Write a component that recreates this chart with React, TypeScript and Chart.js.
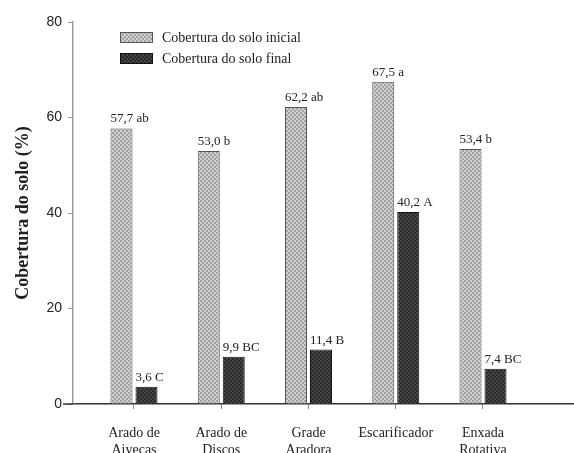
import { useEffect, useRef } from "react";
import { Chart, registerables } from "chart.js";

Chart.register(...registerables);

const categories: string[][] = [
  ["Arado de", "Aivecas"],
  ["Arado de", "Discos"],
  ["Grade", "Aradora"],
  ["Escarificador"],
  ["Enxada", "Rotativa"],
];
const initialValues = [57.7, 53.0, 62.2, 67.5, 53.4];
const finalValues = [3.6, 9.9, 11.4, 40.2, 7.4];
const initialLetters = ["ab", "b", "ab", "a", "b"];
const finalLetters = ["C", "BC", "B", "A", "BC"];
const seriesLabels = ["Cobertura do solo inicial", "Cobertura do solo final"];
const yTickValues = [0, 20, 40, 60, 80];
const yTitle = "Cobertura do solo (%)";

const SERIF = '"Liberation Serif", "Times New Roman", serif';
const SANS = '"Liberation Sans", Arial, sans-serif';

function makePattern(ctx: CanvasRenderingContext2D, base: string, dot: string) {
  const c = document.createElement("canvas");
  c.width = 4;
  c.height = 4;
  const p = c.getContext("2d")!;
  p.fillStyle = base;
  p.fillRect(0, 0, 4, 4);
  p.fillStyle = dot;
  p.fillRect(0, 0, 2, 2);
  p.fillRect(2, 2, 2, 2);
  return ctx.createPattern(c, "repeat") as CanvasPattern;
}

export default function App() {
  const canvasRef = useRef<HTMLCanvasElement | null>(null);

  useEffect(() => {
    const canvas = canvasRef.current;
    if (!canvas) return;
    const ctx = canvas.getContext("2d")!;
    const patInitial = makePattern(ctx, "#d0d0d0", "#a2a2a2");
    const patFinal = makePattern(ctx, "#2a2a2a", "#444444");
    const letters = [initialLetters, finalLetters];

    const labelPlugin = {
      id: "extras",
      afterDatasetsDraw(chart: any) {
        const c = chart.ctx as CanvasRenderingContext2D;
        c.save();
        c.font = `13px ${SERIF}`;
        c.fillStyle = "#222";
        c.textAlign = "left";
        c.textBaseline = "alphabetic";
        chart.data.datasets.forEach((ds: any, di: number) => {
          const meta = chart.getDatasetMeta(di);
          meta.data.forEach((bar: any, i: number) => {
            const v = ds.data[i].y as number;
            const txt = v.toFixed(1).replace(".", ",") + " " + letters[di][i];
            c.fillText(txt, bar.x - bar.width / 2, bar.y - 6);
          });
        });
        c.restore();
      },
      afterDraw(chart: any) {
        const c = chart.ctx as CanvasRenderingContext2D;
        const { left, top } = chart.chartArea;
        const y0 = chart.scales.y.getPixelForValue(0);
        c.save();
        c.strokeStyle = "#333";
        c.lineWidth = 1.5;
        c.beginPath();
        c.moveTo(left - 10, y0);
        c.lineTo(left, y0);
        c.stroke();
        chart.data.datasets.forEach((ds: any, i: number) => {
          const bx = left + 47;
          const by = top + 10 + i * 21;
          c.fillStyle = ds.backgroundColor;
          c.fillRect(bx, by, 33, 11);
          c.strokeStyle = ds.borderColor;
          c.lineWidth = 1;
          c.strokeRect(bx + 0.5, by + 0.5, 32, 10);
          c.fillStyle = "#222";
          c.font = `14px ${SERIF}`;
          c.textAlign = "left";
          c.textBaseline = "middle";
          c.fillText(ds.label, bx + 42, by + 6);
        });
        c.restore();
      },
    };

    const chart = new Chart(canvas, {
      type: "bar",
      data: {
        datasets: [
          {
            label: seriesLabels[0],
            data: initialValues.map((v, i) => ({ x: i + 1, y: v })),
            backgroundColor: patInitial as any,
            borderColor: "#555",
            borderWidth: 1,
            categoryPercentage: 0.573,
            barPercentage: 0.88,
          },
          {
            label: seriesLabels[1],
            data: finalValues.map((v, i) => ({ x: i + 1, y: v })),
            backgroundColor: patFinal as any,
            borderColor: "#111",
            borderWidth: 1,
            categoryPercentage: 0.573,
            barPercentage: 0.88,
          },
        ],
      },
      options: {
        animation: false,
        responsive: true,
        maintainAspectRatio: false,
        layout: { padding: { top: 22, right: 0, bottom: 0, left: 0 } },
        plugins: {
          legend: { display: false },
          tooltip: { enabled: false },
        },
        scales: {
          x: {
            type: "linear",
            offset: false,
            min: 0.3009,
            max: 6.043,
            afterBuildTicks(scale: any) {
              scale.ticks = categories.map((_, i) => ({ value: i + 1 }));
            },
            afterFit(scale: any) {
              scale.height = 49;
            },
            ticks: {
              autoSkip: false,
              maxRotation: 0,
              padding: 16,
              color: "#222",
              font: { family: SERIF, size: 14, lineHeight: 1.2 },
              callback: (v: any) => categories[Math.round(Number(v)) - 1] ?? "",
            },
            grid: {
              display: true,
              offset: false,
              drawOnChartArea: false,
              drawTicks: true,
              tickLength: 5,
              color: "#888",
            },
            border: { display: true, color: "#333", width: 1.5 },
          },
          y: {
            min: 0,
            max: 80,
            afterBuildTicks(scale: any) {
              scale.ticks = yTickValues.map((v) => ({ value: v }));
            },
            afterFit(scale: any) {
              scale.width = 73;
            },
            ticks: {
              padding: 6,
              color: "#222",
              font: { family: SANS, size: 14 },
            },
            grid: {
              display: true,
              drawOnChartArea: false,
              drawTicks: true,
              tickLength: 5,
              color: "#999",
            },
            border: { display: true, color: "#999", width: 1.5 },
            title: {
              display: true,
              text: yTitle,
              color: "#222",
              font: { family: SERIF, size: 18, weight: "bold", lineHeight: 1.2 },
              padding: { top: 13, bottom: 0 },
            },
          },
        },
      },
      plugins: [labelPlugin],
    });

    return () => chart.destroy();
  }, []);

  return (
    <div
      style={{
        position: "fixed",
        left: 0,
        top: 0,
        width: 574,
        height: 453,
        background: "#fff",
      }}
    >
      <canvas ref={canvasRef} />
    </div>
  );
}
